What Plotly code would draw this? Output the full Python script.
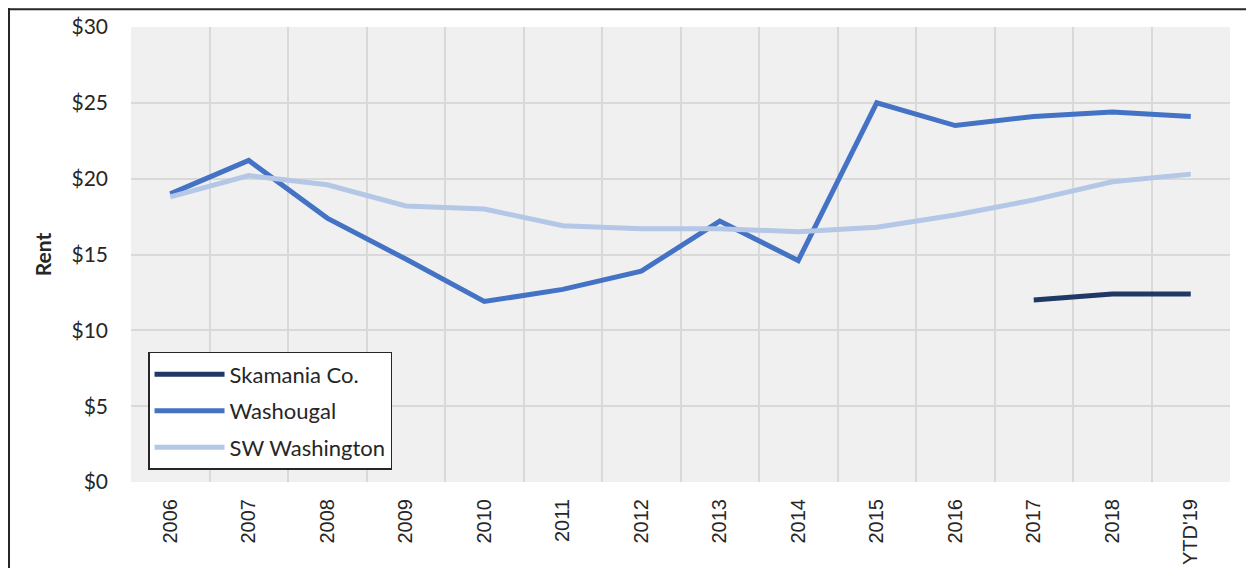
import plotly.graph_objects as go

years = ["2006", "2007", "2008", "2009", "2010", "2011", "2012", "2013",
         "2014", "2015", "2016", "2017", "2018", "YTD'19"]
skamania = [None, None, None, None, None, None, None, None,
            None, None, None, 12.0, 12.4, 12.4]
washougal = [19.0, 21.2, 17.4, 14.7, 11.9, 12.7, 13.9, 17.2,
             14.6, 25.0, 23.5, 24.1, 24.4, 24.1]
sw_washington = [18.8, 20.2, 19.6, 18.2, 18.0, 16.9, 16.7, 16.7,
                 16.5, 16.8, 17.6, 18.6, 19.8, 20.3]

series = [
    ("Skamania Co.", skamania, "#1F3864"),
    ("Washougal", washougal, "#4472C4"),
    ("SW Washington", sw_washington, "#B4C7E7"),
]

fig = go.Figure()
for name, vals, color in series:
    fig.add_trace(go.Scatter(x=years, y=vals, name=name, mode="lines", legendgroup=name,
                             line=dict(color=color, width=5), connectgaps=False))

# page body adds an 8px offset, margins account for it
fig.update_layout(
    width=1254, height=568,
    margin=dict(l=123, r=32, t=19, b=94),
    paper_bgcolor="white", plot_bgcolor="#F0F0F0",
    font=dict(family="Lato, 'Noto Sans', sans-serif", size=21, color="#262626"),
    showlegend=True,
    legend=dict(x=0.0155, y=0.286, xanchor="left", yanchor="top",
                bgcolor="white", bordercolor="#262626", borderwidth=1.5,
                font=dict(size=22), tracegroupgap=5, itemwidth=70),
    shapes=[
        dict(type="line", xref="paper", yref="paper", x0=-0.111, x1=-0.111,
             y0=-0.3, y1=1.05, line=dict(color="#262626", width=2)),
        dict(type="line", xref="paper", yref="paper", x0=-0.111, x1=1.03,
             y0=1.039, y1=1.039, line=dict(color="#262626", width=2)),
    ],
)
fig.update_xaxes(type="category", range=[-0.5, 13.5], tickson="boundaries",
                 showgrid=True, gridcolor="#D9D9D9", gridwidth=2, tickangle=-90,
                 ticks="", ticklabelstandoff=12, zeroline=False, showline=False,
                 automargin=False,
                 tickfont=dict(family="'Liberation Sans', Arial, sans-serif", size=20))
fig.update_yaxes(range=[0, 30], dtick=5, tickprefix="$", showgrid=True,
                 gridcolor="#D9D9D9", gridwidth=2, zeroline=False, automargin=False,
                 ticklabelstandoff=22, tickfont=dict(size=21),
                 title=dict(text="<b>Rent</b>", standoff=14, font=dict(size=21)))

fig.write_html("out.html")
